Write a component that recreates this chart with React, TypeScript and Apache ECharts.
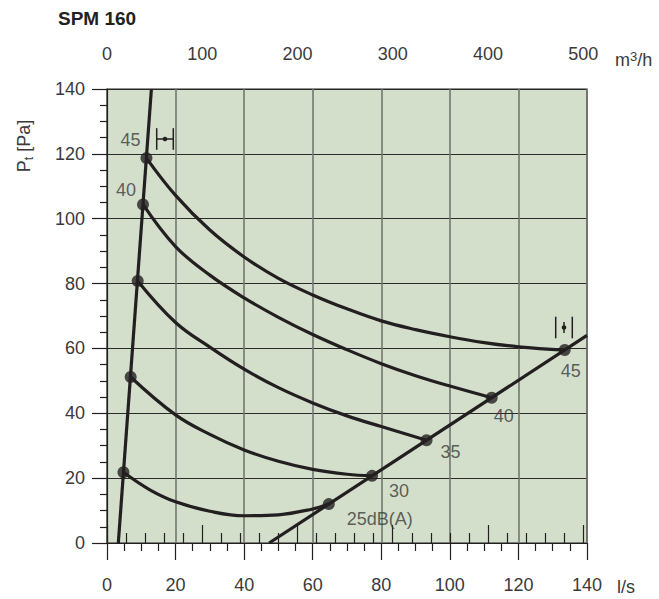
import React, { useEffect, useRef } from "react";
import * as echarts from "echarts";

// ---- data (l/s, Pa) ----
const chartTitle = "SPM 160";
const bottomUnit = "l/s";

const curve25: [number, number][] = [[4.8, 21.8], [12.5, 16.4], [20, 12.7], [30, 9.8], [40, 8.4], [50, 8.7], [60, 10.5], [64.7, 12.0]];
const curve30: [number, number][] = [[6.9, 51.2], [20, 39.5], [30, 33.5], [40, 28.7], [50, 25.2], [60, 22.7], [70, 21.2], [77.3, 20.7]];
const curve35: [number, number][] = [[8.95, 80.8], [20, 68.0], [30, 60.4], [40, 53.6], [50, 47.9], [60, 43.2], [70, 39.2], [80, 35.9], [93.2, 31.7]];
const curve40: [number, number][] = [[10.5, 104.4], [20, 91.4], [30, 82.6], [40, 75.6], [50, 69.6], [60, 64.3], [70, 59.6], [80, 55.3], [90, 51.6], [100, 48.4], [112.2, 44.8]];
const curve45: [number, number][] = [[11.5, 118.7], [20, 107.2], [30, 96.5], [40, 88.2], [50, 81.6], [60, 76.5], [70, 72.2], [80, 68.5], [90, 65.8], [100, 63.6], [110, 61.8], [120, 60.5], [133.5, 59.5]];

const systemLeft: [number, number][] = [[3.3, 0], [12.95, 140]];
const systemRight: [number, number][] = [[47.3, 0], [140, 64]];

const leftDots: [number, number][] = [[4.8, 21.8], [6.9, 51.2], [8.95, 80.8], [10.5, 104.4], [11.5, 118.7]];
const rightDots: [number, number][] = [[64.7, 12.0], [77.3, 20.7], [93.2, 31.7], [112.2, 44.8], [133.5, 59.5]];
const leftLabels = ["", "", "", "40", "45"];
const rightLabels = ["25dB(A)", "30", "35", "40", "45"];

const lsMin = 0, lsMax = 140, lsStep = 20;
const paMin = 0, paMax = 140, paStep = 20;
const m3hMax = 500, m3hStep = 100;
const LS_TO_M3H = 3.6;

// ---- styles ----
const INK = "#231f20";
const TXT = "#3a3a3a";
const FONT = "'Liberation Sans', Arial, Helvetica, sans-serif";
const FS = 18;

const rightOffsets: [number, number][] = [[51, 15], [27, 15], [24, 12], [12, 18], [6, 21]];
const leftOffsets: [number, number][] = [[0, 0], [0, 0], [0, 0], [-17, -14], [-16, -18]];

export default function App() {
  const ref = useRef<HTMLDivElement>(null);
  useEffect(() => {
    if (!ref.current) return;
    const chart = echarts.init(ref.current, undefined, { renderer: "svg" });
    const gridW = 480;
    const tick = { color: INK, width: 1.2 };
    const lineStyle = { color: INK, width: 3.2 };
    const curves = [curve25, curve30, curve35, curve40, curve45];

    const dotData = [
      ...leftDots.map((p, i) => ({
        value: p,
        label: leftLabels[i]
          ? { show: true, formatter: leftLabels[i], offset: leftOffsets[i] }
          : { show: false },
      })),
      ...rightDots.map((p, i) => ({
        value: p,
        label: { show: true, formatter: rightLabels[i], offset: rightOffsets[i] },
      })),
    ];

    const iconLine = (x1: number, y1: number, x2: number, y2: number) => ({
      type: "line",
      shape: { x1, y1, x2, y2 },
      style: { stroke: INK, lineWidth: 1.5 },
      z: 10,
    });

    const option: any = {
      animation: false,
      textStyle: { fontFamily: FONT },
      grid: [
        { left: 107, top: 89, width: gridW, height: 454, show: true, backgroundColor: "#d3dfcb", borderColor: INK, borderWidth: 1.2 },
        { left: 107, top: 89, width: (gridW * m3hMax) / (lsMax * LS_TO_M3H), height: 454, show: false },
      ],
      xAxis: [
        {
          gridIndex: 0, type: "value", position: "bottom", min: lsMin, max: lsMax, interval: lsStep,
          axisLine: { show: true, onZero: false, lineStyle: tick },
          axisTick: { show: true, length: 17, lineStyle: tick },
          minorTick: { show: true, splitNumber: 4, length: 8, lineStyle: tick },
          axisLabel: { margin: 33, fontSize: FS, color: TXT, fontFamily: FONT },
          splitLine: { show: true, lineStyle: { color: "#737670", width: 1.6 } },
        },
        {
          gridIndex: 1, type: "value", position: "top", min: 0, max: m3hMax, interval: m3hStep,
          axisLine: { show: false },
          axisTick: { show: true, length: 18, lineStyle: tick },
          minorTick: { show: true, splitNumber: 5, length: 10, lineStyle: tick },
          axisLabel: { margin: 26, fontSize: FS, color: TXT, fontFamily: FONT },
          splitLine: { show: false },
        },
      ],
      yAxis: [
        {
          gridIndex: 0, type: "value", min: paMin, max: paMax, interval: paStep,
          axisLine: { show: true, onZero: false, lineStyle: tick },
          axisTick: { show: true, length: 15, lineStyle: tick },
          minorTick: { show: true, splitNumber: 4, length: 7, lineStyle: tick },
          axisLabel: { margin: 22, fontSize: FS, color: TXT, fontFamily: FONT },
          splitLine: { show: true, lineStyle: { color: "#2a2a2a", width: 1.2 } },
        },
        { gridIndex: 1, type: "value", show: false, min: paMin, max: paMax },
      ],
      series: [
        ...curves.map((c) => ({
          type: "line", data: c, smooth: 0.4, showSymbol: false, lineStyle, silent: true,
          xAxisIndex: 0, yAxisIndex: 0,
        })),
        { type: "line", data: systemLeft, showSymbol: false, lineStyle, silent: true },
        { type: "line", data: systemRight, showSymbol: false, lineStyle, silent: true },
        {
          type: "scatter", data: dotData, symbolSize: 12, itemStyle: { color: INK }, z: 5, silent: true,
          label: { position: "inside", align: "center", verticalAlign: "middle", fontSize: FS, color: TXT, fontFamily: FONT },
        },
      ],
      graphic: [
        {
          type: "text", x: 58, y: 18,
          style: { text: chartTitle, fontSize: 19, fontWeight: "bold", fill: INK, fontFamily: FONT, textVerticalAlign: "middle", textAlign: "left" },
        },
        {
          type: "text", x: 24, y: 146, rotation: Math.PI / 2,
          style: {
            text: "{a|P}{b|t}{a| [Pa]}",
            rich: {
              a: { fontSize: FS, fill: TXT, fontFamily: FONT },
              b: { fontSize: 12, fill: TXT, fontFamily: FONT, padding: [9, 0, 0, 0] },
            },
            textAlign: "center", textVerticalAlign: "middle",
          },
        },
        {
          type: "text", x: 615, y: 60,
          style: {
            text: "{a|m}{s|3}{a|/h}",
            rich: {
              a: { fontSize: FS, fill: TXT, fontFamily: FONT },
              s: { fontSize: 13, fill: TXT, fontFamily: FONT, padding: [0, 0, 8, 0] },
            },
            textAlign: "left", textVerticalAlign: "middle",
          },
        },
        {
          type: "text", x: 617, y: 587,
          style: { text: bottomUnit, fontSize: FS, fill: TXT, fontFamily: FONT, textAlign: "left", textVerticalAlign: "middle" },
        },
        {
          type: "group", x: 165, y: 139, z: 10,
          children: [
            iconLine(-8.3, -10.8, -8.3, 10.8),
            iconLine(8.3, -10.8, 8.3, 10.8),
            iconLine(-8.3, 0, 8.3, 0),
            { type: "circle", shape: { cx: 0, cy: 0, r: 2.3 }, style: { fill: INK }, z: 10 },
          ],
        },
        {
          type: "group", x: 564, y: 327.5, z: 10,
          children: [
            iconLine(-8.3, -10.8, -8.3, 10.8),
            iconLine(8.3, -10.8, 8.3, 10.8),
            iconLine(0, -5.5, 0, 5.5),
            { type: "circle", shape: { cx: 0, cy: 0, r: 2.3 }, style: { fill: INK }, z: 10 },
          ],
        },
      ],
    };
    chart.setOption(option);
    return () => chart.dispose();
  }, []);
  return (
    <div
      ref={ref}
      style={{ position: "fixed", left: 0, top: 0, width: 659, height: 599, background: "#fff" }}
    />
  );
}
